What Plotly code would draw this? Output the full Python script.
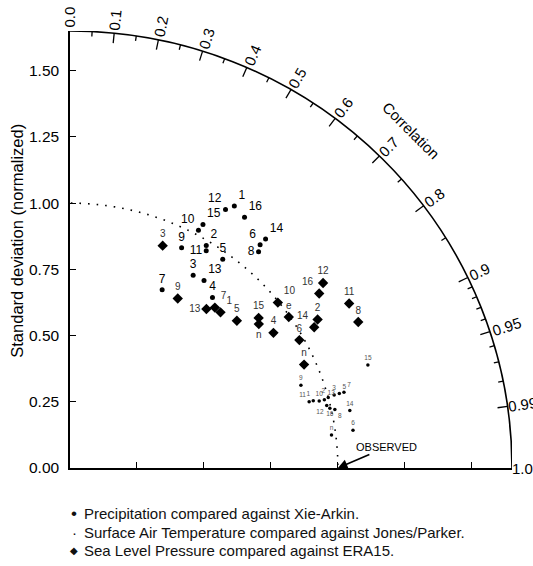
import numpy as np
import plotly.graph_objects as go

# ---------------- data ----------------
# Precipitation compared against Xie-Arkin
precip_labels = ["12", "1", "16", "10", "15", "9", "2", "11", "5", "6", "14", "8", "3", "13", "7", "4"]
precip_std = [1.136, 1.164, 1.149, 1.018, 1.045, 0.930, 0.982, 0.965, 0.973, 1.102, 1.132, 1.078, 0.861, 0.867, 0.756, 0.835]
precip_corr = [0.511, 0.527, 0.567, 0.471, 0.475, 0.448, 0.518, 0.527, 0.586, 0.644, 0.645, 0.653, 0.534, 0.577, 0.455, 0.637]

# Sea Level Pressure compared against ERA15
slp_labels = ["3", "9", "13", "7", "1", "5", "15", "n", "4", "10", "e", "6", "12", "16", "11", "8", "2", "14", "n"]
slp_std = [0.908, 0.756, 0.787, 0.812, 0.813, 0.835, 0.904, 0.890, 0.915, 0.996, 0.996, 0.983, 1.175, 1.140, 1.213, 1.209, 1.081, 1.055, 0.957]
slp_corr = [0.381, 0.532, 0.647, 0.666, 0.691, 0.746, 0.779, 0.792, 0.830, 0.779, 0.820, 0.871, 0.804, 0.816, 0.859, 0.890, 0.855, 0.864, 0.913]

# Surface Air Temperature compared against Jones/Parker
sat_labels = ["15", "9", "14", "6", "n", "11", "1", "10", "13", "2", "3", "5", "7", "12", "16", "8"]
sat_std = [1.178, 0.917, 1.067, 1.066, 0.984, 0.927, 0.943, 0.964, 0.984, 1.000, 1.024, 1.044, 1.062, 0.987, 0.996, 1.013]
sat_corr = [0.944, 0.940, 0.979, 0.991, 0.992, 0.963, 0.963, 0.965, 0.965, 0.964, 0.963, 0.963, 0.963, 0.971, 0.974, 0.976]

# axis ticks
std_ticks = [0.0, 0.25, 0.5, 0.75, 1.0, 1.25, 1.5]
corr_major = [0.0, 0.1, 0.2, 0.3, 0.4, 0.5, 0.6, 0.7, 0.8, 0.9, 0.95, 0.99, 1.0]
corr_major_text = ["0.0", "0.1", "0.2", "0.3", "0.4", "0.5", "0.6", "0.7", "0.8", "0.9", "0.95", "0.99", "1.0"]
corr_minor = [0.05, 0.15, 0.25, 0.35, 0.45, 0.55, 0.65, 0.75, 0.85, 0.91, 0.92, 0.93, 0.94, 0.96, 0.97, 0.98]

legend_symbols = ["\u2022", "\u00b7", "\u25c6"]
legend_text = [
    "Precipitation compared against Xie-Arkin.",
    "Surface Air Temperature compared against Jones/Parker.",
    "Sea Level Pressure compared against ERA15.",
]

# ---------------- styling / label placement ----------------
precip_pos = ["top left", "top right", "top right", "top left", "top right", "top center", "top right",
              "middle left", "top center", "top left", "top right", "middle left", "top center",
              "top right", "top center", "top center"]
slp_pos = ["top center", "top center", "middle left", "top right", "top right", "top center", "top center",
           "bottom center", "top center", "top right", "top center", "top center", "top center",
           "top left", "top center", "top center", "top center", "top left", "top center"]
sat_pos = ["top center", "top center", "top center", "top center", "top center",
           "top left", "top left", "top center", "top right", "top left", "top center", "top right",
           "top right", "bottom left", "bottom center", "bottom right"]

FONT = "Liberation Sans, Arial, Helvetica, sans-serif"
RMAX = 1.65
PXU = 265.0  # approx pixels per unit


def xy(std, corr):
    s = np.asarray(std, float)
    c = np.asarray(corr, float)
    th = np.arccos(c)
    return s * np.cos(th), s * np.sin(th)


def paper(v):
    return float(v) / RMAX


fig = go.Figure()

# correlation tick marks on the outer arc
tx, ty = [], []
for c, ln in [(c, 10) for c in corr_major[1:-1]] + [(c, 5) for c in corr_minor]:
    th = np.arccos(c)
    r0, r1 = RMAX, RMAX - ln / PXU
    tx += [r0 * np.cos(th), r1 * np.cos(th), None]
    ty += [r0 * np.sin(th), r1 * np.sin(th), None]
fig.add_trace(go.Scatter(x=tx, y=ty, mode="lines", line=dict(color="black", width=1.3),
                         hoverinfo="skip", showlegend=False))

# Sea level pressure
x, y = xy(slp_std, slp_corr)
fig.add_trace(go.Scatter(x=x, y=y, mode="markers+text", text=slp_labels, textposition=slp_pos,
                         marker=dict(symbol="diamond", size=8, color="black"),
                         textfont=dict(family=FONT, size=10, color="#333"),
                         cliponaxis=False, showlegend=False, name=legend_text[2]))
# Precipitation
x, y = xy(precip_std, precip_corr)
fig.add_trace(go.Scatter(x=x, y=y, mode="markers+text", text=precip_labels, textposition=precip_pos,
                         marker=dict(symbol="circle", size=5, color="black"),
                         textfont=dict(family=FONT, size=12, color="black"),
                         cliponaxis=False, showlegend=False, name=legend_text[0]))
# Surface air temperature
x, y = xy(sat_std, sat_corr)
fig.add_trace(go.Scatter(x=x, y=y, mode="markers+text", text=sat_labels, textposition=sat_pos,
                         marker=dict(symbol="circle", size=3.5, color="black"),
                         textfont=dict(family=FONT, size=6.5, color="#555"),
                         cliponaxis=False, showlegend=False, name=legend_text[1]))

annotations = []
# legend (below the plot)
leg_y = [-0.171, -0.243, -0.312]
for sym, t, yy in zip(legend_symbols, legend_text, leg_y):
    annotations.append(dict(x=paper(0.016), y=paper(yy), xref="paper", yref="paper", text=sym,
                            showarrow=False, xanchor="center", yanchor="middle",
                            font=dict(family=FONT if sym != "\u25c6" else "DejaVu Sans",
                                      size=17 if sym == "\u2022" else (15 if sym == "\u00b7" else 10),
                                      color="#111")))
    annotations.append(dict(x=paper(0.045), y=paper(yy), xref="paper", yref="paper", text=t,
                            showarrow=False, xanchor="left", yanchor="middle",
                            font=dict(family=FONT, size=15, color="#111")))

# correlation labels
for c, t in zip(corr_major, corr_major_text):
    th = np.arccos(c)
    w = sum(4.2 if ch == "." else 8.3 for ch in t)
    gap = 3 if c < 0.99 else 0
    r = RMAX + (gap + w / 2) / PXU
    annotations.append(dict(x=paper(r * np.cos(th)), y=paper(r * np.sin(th)), xref="paper", yref="paper",
                            text=t, showarrow=False, textangle=-np.degrees(th),
                            xanchor="center", yanchor="middle",
                            font=dict(family=FONT, size=15, color="black")))

annotations.append(dict(x=paper(1.80 * np.cos(np.pi / 4)), y=paper(1.80 * np.sin(np.pi / 4)),
                        xref="paper", yref="paper", text="Correlation", showarrow=False, textangle=45,
                        xanchor="center", yanchor="middle",
                        font=dict(family=FONT, size=15, color="black")))
annotations.append(dict(x=paper(-0.196), y=paper(0.86), xref="paper", yref="paper",
                        text="Standard deviation (normalized)", showarrow=False, textangle=-90,
                        xanchor="center", yanchor="middle",
                        font=dict(family=FONT, size=16.5, color="black")))
annotations.append(dict(x=1.0, y=0.0, xref="x", yref="y", text="OBSERVED", showarrow=True,
                        ax=49, ay=-21, arrowhead=2, arrowsize=1.2, arrowwidth=1.6, arrowcolor="black",
                        font=dict(family=FONT, size=11, color="black")))

shapes = [
    dict(type="circle", xref="x", yref="y", x0=-RMAX, y0=-RMAX, x1=RMAX, y1=RMAX,
         line=dict(color="black", width=1.6), layer="above"),
    dict(type="circle", xref="x", yref="y", x0=-1, y0=-1, x1=1, y1=1,
         line=dict(color="black", width=1.6, dash="1.6px,7px"), layer="below"),
]

fig.update_layout(
    width=533, height=566,
    margin=dict(l=70, r=21, t=31, b=98),
    paper_bgcolor="white", plot_bgcolor="white",
    font=dict(family=FONT, size=14, color="black"),
    xaxis=dict(range=[0, RMAX], showgrid=False, zeroline=False, showline=True, linecolor="black",
               linewidth=1.5, tickvals=std_ticks[1:], ticks="inside", ticklen=6, tickcolor="black",
               showticklabels=False, fixedrange=True),
    yaxis=dict(range=[0, RMAX], showgrid=False, zeroline=False, showline=True, linecolor="black",
               linewidth=1.5, tickvals=std_ticks, tickformat=".2f", ticks="inside", ticklen=6,
               tickcolor="black", ticklabelstandoff=6, tickfont=dict(family=FONT, size=15.5),
               fixedrange=True),
    shapes=shapes,
    annotations=annotations,
    showlegend=False,
)

fig.write_html("out.html", config={"displayModeBar": False},
               post_script="document.body.style.margin='0';document.body.style.overflow='hidden';")
